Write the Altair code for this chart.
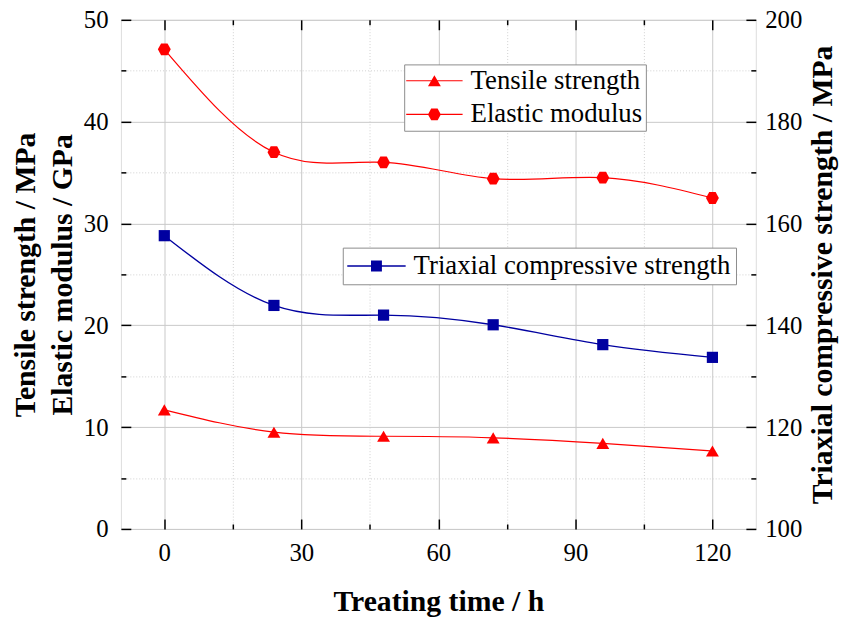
import altair as alt
import pandas as pd

# ---------------- data ----------------
time_h = [0, 24, 48, 72, 96, 120]
tensile = [11.7, 9.5, 9.1, 8.95, 8.4, 7.65]
elastic = [47.1, 37.0, 36.0, 34.4, 34.5, 32.5]
triaxial = [157.6, 143.9, 142.0, 140.1, 136.2, 133.7]

TENS = "Tensile strength"
ELAS = "Elastic modulus"
TRI = "Triaxial compressive strength"

x_major = [0, 30, 60, 90, 120]
x_minor = [15, 45, 75, 105]
yl_major = [0, 10, 20, 30, 40, 50]
yl_minor = [5, 15, 25, 35, 45]
yr_major = [100, 120, 140, 160, 180, 200]
yr_minor = [110, 130, 150, 170, 190]

left_df = pd.DataFrame({"t": time_h * 2, "v": tensile + elastic,
                        "s": [TENS] * len(time_h) + [ELAS] * len(time_h)})
tens_df = left_df[left_df["s"] == TENS]
elas_df = left_df[left_df["s"] == ELAS]
right_df = pd.DataFrame({"t": time_h, "v": triaxial, "s": [TRI] * len(time_h)})

# ---------------- style ----------------
FONT = "Liberation Serif"
RED = "#FF0000"
BLUE = "#0000A0"
GRID = "#c8c8c8"
MINOR_GRID = "#d0d0d0"

HEX = "M-1,0L-0.5,-0.92L0.5,-0.92L1,0L0.5,0.92L-0.5,0.92Z"
TRI_LEG = "M-4.38,-0.092H4.38V0.092H-4.38Z M0,-0.866L1,0.866L-1,0.866Z"
HEX_LEG = "M-4.38,-0.092H4.38V0.092H-4.38Z " + HEX
SQ_LEG = "M-5.36,-0.13H5.36V0.13H-5.36Z M-1,-1H1V1H-1Z"

xs = alt.Scale(domain=[-9.5, 129.5], nice=False, zero=False)
yl = alt.Scale(domain=[0, 50], nice=False, zero=False)
yr = alt.Scale(domain=[100, 200], nice=False, zero=False)

def tick_axis(orient, values, size, grid=False, dotted=False):
    kw = dict(values=values, orient=orient, offset=-size, tickSize=size,
              tickColor="black", tickWidth=1.5, labels=False, domain=False,
              title=None, grid=grid)
    if grid:
        kw.update(gridColor=MINOR_GRID if dotted else GRID, gridWidth=1)
        if dotted:
            kw["gridDash"] = [1, 2]
    return alt.Axis(**kw)

ax_x_main = alt.Axis(values=x_major, orient="bottom", offset=-10, tickSize=10,
                     tickColor="black", tickWidth=1.5, domain=False,
                     grid=True, gridColor=GRID, gridWidth=1,
                     labelFont=FONT, labelFontSize=25, labelColor="black",
                     labelPadding=12, labelFlush=False,
                     title="Treating time / h", titleFont=FONT, titleFontSize=30,
                     titleFontWeight="bold", titleColor="black", titlePadding=21)
ax_x_minor = tick_axis("bottom", x_minor, 5, grid=True, dotted=True)
ax_x_top = tick_axis("top", x_major, 10)
ax_x_top_minor = tick_axis("top", x_minor, 5)

ax_yl_main = alt.Axis(values=yl_major, orient="left", offset=-10, tickSize=10,
                      tickColor="black", tickWidth=1.5, domain=False,
                      grid=True, gridColor=GRID, gridWidth=1,
                      labelFont=FONT, labelFontSize=25, labelColor="black",
                      labelPadding=13, labelFlush=False,
                      title=["Tensile strength / MPa", "Elastic modulus / GPa"],
                      titleFont=FONT, titleFontSize=30, titleFontWeight="bold",
                      titleColor="black", titlePadding=6, titleLineHeight=37)
ax_yl_minor = tick_axis("left", yl_minor, 5, grid=True, dotted=True)

ax_yr_main = alt.Axis(values=yr_major, orient="right", offset=-10, tickSize=10,
                      tickColor="black", tickWidth=1.5, domain=False, grid=False,
                      labelFont=FONT, labelFontSize=25, labelColor="black",
                      labelPadding=9, labelFlush=False,
                      title="Triaxial compressive strength / MPa",
                      titleFont=FONT, titleFontSize=30, titleFontWeight="bold",
                      titleColor="black", titlePadding=6, titleAngle=270,
                      titleBaseline="top")
ax_yr_minor = tick_axis("right", yr_minor, 5)

# ---------------- left group ----------------
l_lines = alt.Chart(left_df).mark_line(interpolate="natural", color=RED, strokeWidth=1.2).encode(
    x=alt.X("t:Q", scale=xs, axis=ax_x_main),
    y=alt.Y("v:Q", scale=yl, axis=ax_yl_main),
    detail="s:N",
)
l_tens = alt.Chart(tens_df).mark_point(filled=True, size=169, shape="triangle-up",
                                       color=RED, opacity=1).encode(
    x=alt.X("t:Q", scale=xs, axis=ax_x_minor),
    y=alt.Y("v:Q", scale=yl, axis=ax_yl_minor),
)
l_elas = alt.Chart(elas_df).mark_point(filled=True, size=169, shape=HEX,
                                       color=RED, opacity=1).encode(
    x=alt.X("t:Q", scale=xs, axis=ax_x_top),
    y=alt.Y("v:Q", scale=yl, axis=None),
)
leg1 = alt.Legend(orient="none", legendX=286, legendY=45, title=None, padding=3,
                  strokeColor="#8c8c8c", fillColor="white", symbolSize=169,
                  symbolOffset=14, labelOffset=23, rowPadding=6,
                  labelFont=FONT, labelFontSize=27, labelColor="black",
                  labelLimit=1000, symbolStrokeWidth=0)
l_leg = alt.Chart(left_df).mark_point(filled=True, size=169, color=RED, opacity=0).encode(
    x=alt.X("t:Q", scale=xs, axis=ax_x_top_minor),
    y=alt.Y("v:Q", scale=yl, axis=None),
    shape=alt.Shape("s:N", scale=alt.Scale(domain=[TENS, ELAS], range=[TRI_LEG, HEX_LEG]),
                    legend=leg1),
)
left = alt.layer(l_lines, l_tens, l_elas, l_leg).resolve_axis(x="independent", y="independent")

# ---------------- right group ----------------
r_line = alt.Chart(right_df).mark_line(interpolate="natural", color=BLUE, strokeWidth=1.4).encode(
    x=alt.X("t:Q", scale=xs, axis=None),
    y=alt.Y("v:Q", scale=yr, axis=ax_yr_main),
)
r_pts = alt.Chart(right_df).mark_point(filled=True, size=128, shape="square",
                                       color=BLUE, opacity=1).encode(
    x=alt.X("t:Q", scale=xs, axis=None),
    y=alt.Y("v:Q", scale=yr, axis=ax_yr_minor),
)
leg2 = alt.Legend(orient="none", legendX=224, legendY=230, title=None, padding=5,
                  strokeColor="#8c8c8c", fillColor="white", symbolSize=121,
                  symbolOffset=15.5, labelOffset=24,
                  labelFont=FONT, labelFontSize=27, labelColor="black",
                  labelLimit=1000, symbolStrokeWidth=0)
r_leg = alt.Chart(right_df).mark_point(filled=True, size=121, color=BLUE, opacity=0).encode(
    x=alt.X("t:Q", scale=xs, axis=None),
    y=alt.Y("v:Q", scale=yr, axis=None),
    shape=alt.Shape("s:N", scale=alt.Scale(domain=[TRI], range=[SQ_LEG]), legend=leg2),
)
right = alt.layer(r_line, r_pts, r_leg).resolve_axis(y="independent")

chart = (
    alt.layer(left, right)
    .resolve_scale(y="independent", shape="independent")
    .resolve_axis(x="independent", y="independent")
    .properties(width=641, height=514,
                autosize=alt.AutoSizeParams(type="none"),
                padding={"left": 114, "top": 9, "right": 85, "bottom": 89})
    .configure_view(stroke="black", strokeWidth=2)
    .configure(background="white")
)

chart.save("out.html", embed_options={"renderer": "svg", "actions": False})
